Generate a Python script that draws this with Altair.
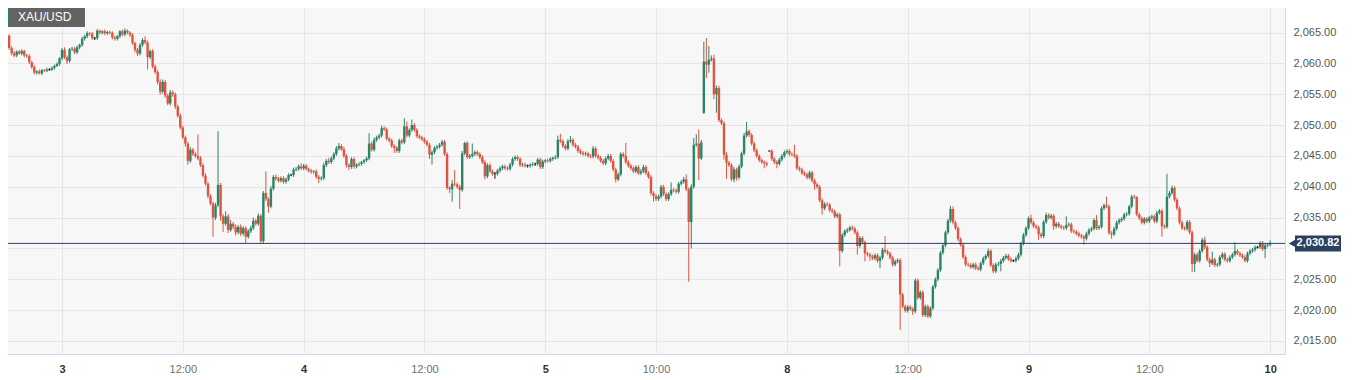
import altair as alt
import pandas as pd

# ---------------- data (15-minute XAU/USD candles) ----------------
FIRST_OPEN = 2065.0
GAP_OPENS = {279: 2052.0, 305: 2045.8}

CLOSE = [
    2063.1, 2063.3, 2064.5, 2062.5, 2061.6, 2061.3, 2061.9, 2061.6, 2062.0, 2061.3,
    2061.2, 2060.2, 2059.4, 2058.5, 2058.7, 2058.4, 2058.9, 2058.8, 2059.0, 2059.0,
    2059.3, 2059.6, 2059.9, 2060.8, 2062.2, 2061.0, 2060.4, 2062.3, 2062.4, 2061.8,
    2062.6, 2063.0, 2064.0, 2064.4, 2064.9, 2064.8, 2064.1, 2064.1, 2065.3, 2065.0,
    2065.2, 2064.9, 2065.1, 2065.0, 2064.2, 2064.0, 2064.4, 2065.2, 2064.7, 2065.3,
    2065.0, 2064.6, 2063.3, 2062.2, 2061.6, 2063.0, 2063.8, 2063.4, 2061.0, 2062.0,
    2059.5, 2058.6, 2057.0, 2055.4, 2057.0, 2054.8, 2053.5, 2055.3, 2055.0, 2053.0,
    2051.5, 2049.6, 2048.0, 2047.0, 2044.2, 2046.0, 2045.3, 2045.0, 2044.6, 2043.5,
    2041.8, 2040.5, 2038.5, 2037.3, 2035.0, 2037.0, 2040.3, 2035.2, 2034.0, 2035.2,
    2033.0, 2034.0, 2033.5, 2032.6, 2033.5, 2032.4, 2033.3, 2031.9, 2032.8, 2033.3,
    2034.5, 2034.0, 2035.3, 2031.2, 2039.0, 2038.0, 2036.8, 2039.7, 2041.6, 2041.3,
    2041.0, 2041.4, 2040.8, 2041.2, 2041.9, 2041.9, 2042.8, 2042.9, 2043.3, 2043.0,
    2043.4, 2042.9, 2042.6, 2042.4, 2042.5, 2041.6, 2041.3, 2041.4, 2043.5, 2044.2,
    2044.0, 2044.6, 2045.3, 2046.2, 2046.6, 2046.1, 2045.0, 2043.5, 2043.2, 2044.5,
    2043.3, 2043.6, 2043.7, 2044.0, 2044.3, 2044.6, 2047.0, 2046.0, 2047.6, 2048.0,
    2048.3, 2049.5, 2049.3, 2047.8, 2047.5, 2046.6, 2046.3, 2045.8, 2047.5, 2047.2,
    2049.8, 2048.3, 2049.2, 2050.0, 2049.2, 2048.2, 2048.0, 2047.7, 2047.3, 2046.8,
    2045.2, 2045.6, 2046.3, 2046.5, 2046.8, 2047.3, 2045.3, 2039.8, 2039.6, 2040.5,
    2040.4, 2040.0, 2039.5, 2045.4, 2047.1, 2044.8, 2045.0, 2045.3, 2045.6, 2045.3,
    2044.8, 2044.0, 2041.7, 2043.5, 2042.5, 2042.1, 2042.1, 2042.6, 2043.0, 2043.3,
    2043.0, 2042.9, 2043.6, 2044.5, 2044.8, 2044.5, 2043.5, 2043.6, 2043.4, 2043.4,
    2043.6, 2043.7, 2043.7, 2044.4, 2043.2, 2044.1, 2044.3, 2044.2, 2044.5, 2044.7,
    2044.8, 2047.6, 2047.4, 2046.6, 2046.2, 2047.4, 2047.6, 2046.8, 2046.5, 2045.8,
    2045.5, 2045.3, 2045.4, 2045.0, 2044.9, 2046.2, 2045.0, 2044.7, 2044.2, 2043.8,
    2044.6, 2045.0, 2044.2, 2042.8, 2041.2, 2042.0, 2045.3, 2045.0, 2044.0, 2043.4,
    2043.0, 2042.5, 2043.2, 2042.2, 2042.5, 2043.2, 2042.2, 2041.6, 2039.0, 2038.5,
    2038.0, 2038.4, 2040.0, 2038.8, 2038.0, 2038.8, 2039.5, 2039.4, 2039.2, 2040.5,
    2040.8, 2041.2, 2039.6, 2034.3, 2040.0, 2046.8, 2047.0, 2044.6, 2047.2, 2060.3,
    2059.8, 2060.6, 2060.8, 2055.0, 2056.0, 2050.8, 2050.3, 2045.2, 2043.9, 2043.5,
    2041.2, 2042.8, 2041.5, 2043.3, 2045.4, 2048.3, 2049.0, 2048.4, 2047.0, 2045.9,
    2045.0, 2044.3, 2044.0, 2043.8, 2043.6, 2045.8, 2044.5, 2044.0, 2043.7, 2044.4,
    2045.0, 2045.6, 2045.8, 2045.3, 2045.2, 2045.0, 2043.0, 2042.8, 2042.2, 2042.0,
    2041.5, 2042.3, 2041.0, 2040.4, 2040.0, 2037.8, 2036.5, 2037.2, 2037.1, 2036.2,
    2036.0, 2035.2, 2035.5, 2029.6, 2032.2, 2032.8, 2033.0, 2033.4, 2033.2, 2032.6,
    2030.4, 2031.7, 2031.0, 2029.2, 2029.0, 2028.7, 2028.4, 2028.9, 2028.0, 2028.5,
    2029.8, 2029.5, 2029.2, 2028.5, 2027.4, 2027.9, 2028.1, 2022.5, 2020.6, 2019.9,
    2020.5, 2020.2, 2019.8, 2024.8, 2022.0, 2022.9, 2019.2, 2020.6, 2019.0, 2020.3,
    2023.8, 2025.0, 2026.5, 2029.3, 2030.5, 2032.6, 2034.5, 2036.4, 2034.2, 2033.3,
    2031.5, 2030.6, 2028.6, 2027.4, 2027.3, 2027.0, 2027.4, 2026.8, 2026.6, 2027.6,
    2028.4, 2028.8, 2029.6, 2027.3, 2026.3, 2027.4, 2027.5, 2028.0, 2028.5, 2028.8,
    2028.3, 2028.0, 2028.0, 2028.4, 2029.0, 2030.8, 2032.2, 2033.3, 2034.9, 2034.2,
    2033.6, 2033.4, 2032.3, 2032.0, 2034.3, 2035.4, 2035.0, 2035.3, 2033.6, 2034.0,
    2033.6, 2033.4, 2033.3, 2033.8, 2033.9, 2032.8, 2032.7, 2032.4, 2032.1, 2031.9,
    2031.6, 2032.4, 2033.0, 2033.2, 2034.6, 2033.3, 2033.5, 2036.5, 2037.0, 2036.8,
    2032.5, 2032.3, 2033.2, 2034.2, 2034.6, 2034.8, 2035.5, 2035.6, 2036.8, 2038.4,
    2038.3, 2035.5, 2034.9, 2034.2, 2034.8, 2034.4, 2035.0, 2035.2, 2034.4, 2035.8,
    2036.1, 2033.6, 2033.5, 2038.4, 2039.0, 2039.8, 2037.9, 2036.5, 2034.2, 2033.3,
    2033.2, 2034.3, 2032.6, 2027.5, 2029.0, 2028.0, 2029.6, 2031.4, 2030.2, 2028.2,
    2027.6, 2028.2, 2027.3, 2027.4, 2028.6, 2029.1, 2028.2, 2028.0, 2028.6, 2029.0,
    2029.6, 2029.2, 2028.9, 2028.6, 2028.0, 2029.2, 2029.6, 2029.8, 2030.2, 2030.2,
    2030.9, 2029.9, 2030.5, 2030.6, 2030.82,
]

UPPER_WICK = [
    0.1, 0.3, 0.3, 0.2, 0.3, 0.4, 0.2, 0.3, 0.3, 0.2,
    0.2, 0.3, 0.2, 0.3, 0.2, 0.3, 0.2, 0.2, 0.3, 0.2,
    0.2, 0.2, 0.3, 0.2, 0.3, 0.4, 0.3, 0.2, 0.3, 0.3,
    0.3, 0.2, 0.3, 0.2, 0.3, 0.2, 0.3, 0.2, 0.3, 0.2,
    0.2, 0.3, 0.2, 0.2, 0.2, 0.3, 0.2, 0.2, 0.3, 0.4,
    0.2, 0.2, 0.3, 0.2, 0.3, 0.3, 0.3, 0.6, 0.3, 0.3,
    0.3, 0.3, 0.3, 0.4, 0.4, 0.3, 0.3, 0.4, 0.3, 0.3,
    0.3, 0.4, 0.3, 0.3, 0.3, 0.4, 0.3, 0.3, 3.5, 0.4,
    0.3, 0.4, 0.3, 0.3, 0.3, 0.4, 8.7, 0.3, 0.4, 0.8,
    0.4, 0.6, 0.3, 0.4, 0.3, 0.4, 0.3, 0.3, 0.3, 0.4,
    0.5, 0.3, 0.4, 0.3, 0.3, 3.5, 0.3, 0.4, 0.3, 0.4,
    0.3, 0.3, 0.3, 0.3, 0.3, 0.2, 0.3, 0.3, 0.3, 0.5,
    0.3, 0.3, 0.2, 0.3, 0.2, 0.3, 0.3, 0.3, 0.4, 0.3,
    0.5, 0.3, 0.3, 0.4, 0.5, 0.3, 0.4, 0.3, 0.3, 0.3,
    0.3, 0.2, 0.3, 0.2, 0.2, 0.3, 1.7, 0.3, 0.4, 0.3,
    0.3, 0.4, 0.3, 0.3, 0.3, 0.3, 0.3, 0.3, 0.3, 0.3,
    1.3, 0.8, 0.3, 0.9, 0.3, 0.3, 0.3, 0.3, 0.3, 0.3,
    0.3, 0.3, 0.3, 0.3, 0.3, 0.3, 0.3, 0.3, 0.3, 0.6,
    2.2, 0.3, 0.3, 0.4, 0.2, 0.3, 0.3, 1.7, 0.3, 0.3,
    0.3, 0.3, 0.3, 0.3, 0.3, 0.3, 0.3, 0.3, 0.3, 0.3,
    0.3, 0.3, 0.3, 0.3, 0.3, 0.3, 0.3, 0.3, 0.3, 0.2,
    0.2, 0.3, 0.2, 0.3, 0.3, 0.3, 0.2, 0.3, 0.3, 0.2,
    0.3, 0.7, 1.0, 0.3, 0.3, 0.3, 0.6, 0.3, 0.3, 0.3,
    0.3, 0.3, 0.3, 0.3, 0.3, 0.4, 0.3, 0.3, 0.3, 0.3,
    0.3, 0.3, 0.3, 0.3, 0.3, 0.3, 0.3, 0.3, 2.1, 0.3,
    0.3, 0.3, 0.3, 0.3, 0.4, 0.4, 0.3, 0.3, 0.3, 0.3,
    0.3, 0.3, 0.3, 0.3, 0.3, 0.3, 1.2, 0.3, 0.3, 0.3,
    0.3, 0.4, 0.8, 0.3, 0.4, 1.1, 1.5, 2.3, 0.4, 3.2,
    3.8, 2.2, 0.5, 0.6, 0.4, 0.4, 0.3, 0.3, 0.4, 0.3,
    0.3, 0.4, 0.3, 0.3, 0.3, 0.4, 1.5, 0.3, 0.3, 0.3,
    0.3, 0.3, 0.3, 0.3, 0.3, 0.1, 0.3, 0.3, 0.3, 0.3,
    0.3, 0.3, 0.3, 0.3, 0.3, 1.6, 0.3, 0.3, 0.3, 0.3,
    0.3, 0.3, 0.3, 0.3, 0.3, 0.3, 0.3, 0.3, 0.3, 0.3,
    0.3, 0.3, 0.3, 0.3, 0.3, 0.3, 0.3, 0.3, 0.3, 0.3,
    0.3, 0.3, 0.3, 0.3, 0.3, 0.3, 0.3, 0.3, 0.3, 0.3,
    0.3, 2.2, 0.3, 0.3, 0.3, 0.3, 0.3, 0.3, 0.3, 0.3,
    0.3, 0.3, 0.3, 0.3, 0.3, 0.3, 0.3, 0.3, 0.3, 0.3,
    0.3, 0.3, 0.3, 0.3, 0.3, 0.3, 0.3, 0.5, 0.4, 0.3,
    0.3, 0.3, 0.3, 0.3, 0.3, 0.3, 0.3, 0.3, 0.3, 0.3,
    0.3, 0.3, 0.4, 0.3, 0.3, 0.3, 0.3, 0.3, 0.3, 0.3,
    0.3, 0.3, 0.2, 0.3, 0.3, 0.3, 0.3, 0.3, 0.3, 0.6,
    0.3, 0.3, 0.3, 0.3, 0.3, 0.4, 0.3, 0.3, 0.3, 0.3,
    0.3, 0.3, 0.3, 1.4, 0.3, 0.3, 0.3, 0.3, 0.3, 0.3,
    0.3, 0.3, 0.3, 0.3, 0.3, 0.8, 0.3, 0.3, 0.3, 1.4,
    0.3, 0.3, 0.3, 0.3, 0.3, 0.3, 0.3, 0.3, 0.3, 0.3,
    0.3, 0.2, 0.3, 0.3, 0.3, 0.3, 0.3, 0.3, 0.3, 0.3,
    0.3, 0.3, 0.3, 3.7, 0.3, 0.4, 0.3, 0.3, 0.3, 0.3,
    0.3, 0.3, 0.3, 0.3, 0.3, 0.3, 0.3, 0.3, 0.5, 0.3,
    0.3, 1.3, 0.3, 0.3, 0.3, 0.3, 0.3, 0.3, 0.3, 0.3,
    1.4, 0.3, 0.3, 0.3, 0.3, 0.3, 0.3, 0.3, 0.3, 0.2,
    0.3, 0.3, 0.3, 0.3, 0.5,
]

LOWER_WICK = [
    0.4, 0.3, 0.3, 0.3, 0.3, 0.3, 0.3, 0.2, 0.3, 0.3,
    0.3, 0.3, 0.3, 0.3, 0.3, 0.2, 0.3, 0.2, 0.2, 0.2,
    0.2, 0.3, 0.2, 0.3, 0.3, 0.3, 0.5, 0.3, 0.3, 0.3,
    0.3, 0.3, 0.3, 0.3, 0.3, 0.3, 0.3, 0.3, 0.3, 0.3,
    0.3, 0.3, 0.3, 0.3, 0.3, 0.3, 0.3, 0.3, 0.3, 0.3,
    0.3, 0.3, 0.3, 0.4, 0.4, 0.3, 0.3, 0.3, 2.0, 0.3,
    0.3, 0.3, 0.4, 0.5, 0.3, 0.4, 0.3, 0.3, 0.4, 0.4,
    0.3, 0.3, 0.3, 0.5, 0.6, 0.3, 0.3, 0.3, 0.3, 0.3,
    0.3, 0.3, 0.4, 0.3, 3.1, 0.4, 0.3, 0.7, 1.3, 0.3,
    0.5, 0.3, 0.4, 0.5, 0.3, 0.4, 0.3, 1.0, 0.3, 0.3,
    0.3, 0.3, 0.3, 0.4, 0.4, 0.3, 1.0, 0.3, 0.3, 0.3,
    0.3, 0.3, 0.3, 0.3, 0.3, 0.2, 0.3, 0.3, 0.3, 0.3,
    0.3, 0.3, 0.3, 0.3, 0.3, 0.3, 0.7, 0.3, 0.3, 0.3,
    0.3, 0.3, 0.3, 0.3, 0.3, 0.3, 0.3, 0.4, 0.5, 0.3,
    0.4, 0.3, 0.3, 0.3, 0.3, 0.3, 0.3, 0.3, 0.3, 0.3,
    0.3, 0.3, 0.3, 0.3, 0.3, 0.3, 0.8, 0.3, 0.3, 0.3,
    0.3, 0.3, 0.3, 0.3, 0.3, 0.3, 0.3, 0.3, 0.3, 0.3,
    0.7, 1.6, 0.3, 0.3, 0.3, 0.3, 0.3, 0.3, 0.6, 2.0,
    0.3, 0.3, 3.1, 0.3, 0.3, 0.3, 0.3, 0.3, 0.3, 0.3,
    0.3, 0.3, 0.5, 0.3, 0.3, 0.3, 0.8, 0.3, 0.3, 0.3,
    0.3, 0.3, 0.3, 0.3, 0.3, 0.3, 0.3, 0.3, 0.3, 0.3,
    0.3, 0.3, 0.3, 0.3, 0.3, 0.3, 0.3, 0.3, 0.3, 0.3,
    0.3, 0.3, 0.3, 0.3, 0.3, 0.3, 0.3, 0.3, 0.3, 0.3,
    0.3, 0.3, 0.3, 0.3, 0.3, 0.3, 0.3, 0.3, 0.3, 0.3,
    0.3, 0.3, 0.3, 0.3, 0.5, 0.3, 0.3, 0.3, 0.3, 0.3,
    0.3, 0.3, 0.3, 0.3, 0.3, 0.3, 0.3, 0.3, 0.4, 0.9,
    0.3, 0.3, 0.3, 0.3, 0.3, 0.3, 0.3, 0.3, 0.3, 0.3,
    0.3, 0.3, 0.3, 9.7, 4.3, 0.3, 0.3, 3.5, 0.3, 0.2,
    2.2, 1.3, 0.3, 0.8, 3.0, 0.3, 0.3, 0.8, 2.6, 0.3,
    0.3, 0.5, 0.5, 0.3, 0.3, 0.3, 0.3, 0.3, 0.3, 0.3,
    0.3, 0.3, 0.3, 0.8, 0.3, 0.1, 0.3, 0.3, 0.7, 0.3,
    0.3, 0.3, 0.3, 0.3, 0.3, 0.3, 0.3, 0.3, 0.3, 0.3,
    0.3, 0.3, 0.3, 0.9, 0.3, 0.3, 1.0, 0.3, 0.3, 0.3,
    0.3, 0.3, 0.3, 2.5, 0.3, 0.3, 0.3, 0.3, 0.3, 0.3,
    1.4, 0.3, 0.3, 1.3, 0.3, 0.7, 0.3, 0.3, 0.3, 1.2,
    0.3, 0.3, 0.3, 0.3, 0.3, 0.3, 0.3, 5.7, 0.3, 0.3,
    0.3, 0.3, 0.6, 0.3, 0.3, 0.3, 0.3, 0.3, 0.3, 0.3,
    0.3, 0.3, 0.3, 0.3, 0.3, 0.3, 0.3, 0.3, 0.3, 0.3,
    0.3, 0.3, 0.3, 0.3, 0.3, 0.3, 0.3, 0.3, 0.2, 0.3,
    0.3, 0.3, 0.3, 0.3, 0.3, 0.3, 0.3, 1.2, 0.3, 0.3,
    0.3, 0.3, 0.2, 0.3, 0.3, 0.3, 0.3, 0.3, 0.3, 0.3,
    0.3, 0.3, 0.9, 0.3, 0.3, 0.3, 0.3, 0.3, 0.6, 0.3,
    0.3, 0.3, 0.3, 0.3, 0.3, 0.3, 0.3, 0.3, 0.3, 0.3,
    1.0, 0.3, 0.3, 0.3, 0.3, 0.3, 0.3, 0.3, 0.3, 0.3,
    0.3, 0.7, 0.3, 0.3, 0.3, 0.3, 0.3, 0.3, 0.3, 0.3,
    0.3, 0.3, 0.3, 0.3, 0.3, 0.3, 0.3, 0.3, 0.3, 0.3,
    0.3, 1.7, 0.3, 0.3, 0.3, 0.3, 0.3, 0.3, 0.3, 0.3,
    0.3, 0.3, 0.3, 1.3, 1.3, 0.3, 0.3, 0.3, 0.3, 0.3,
    0.6, 0.3, 0.3, 0.3, 0.3, 0.3, 0.3, 0.3, 0.3, 0.3,
    0.3, 0.3, 0.3, 0.3, 0.3, 0.3, 0.3, 0.3, 0.3, 0.2,
    0.3, 0.3, 1.5, 0.3, 0.3,
]

TICK_IDX = [24, 72, 120, 168, 216, 260, 312, 360, 408, 456, 504]
TICK_LABELS = ["3", "12:00", "4", "12:00", "5", "10:00", "8", "12:00", "9", "12:00", "10"]
DAY_TICKS = [24, 120, 216, 312, 408, 504]
Y_TICKS = [2015, 2020, 2025, 2030, 2035, 2040, 2045, 2050, 2055, 2060, 2065]
HIDDEN_Y_LABEL = 2030  # covered by the last-price tag in the reference
LAST_PRICE = 2030.82
LAST_PRICE_LABEL = "2,030.82"
SYMBOL = "XAU/USD"

# ---------------- build table ----------------
rows = []
prev = FIRST_OPEN
for i, c in enumerate(CLOSE):
    o = GAP_OPENS.get(i, prev)
    hi_b, lo_b = max(o, c), min(o, c)
    if abs(c - o) < 1e-9:
        d = "flat"
        b_lo, b_hi = c - 0.06, c + 0.06
    else:
        d = "up" if c > o else "down"
        b_lo, b_hi = lo_b, hi_b
    rows.append(dict(i=i, o=o, c=c, blo=b_lo, bhi=b_hi,
                     high=hi_b + UPPER_WICK[i], low=lo_b - LOWER_WICK[i], dir=d))
    prev = c
df = pd.DataFrame(rows)

GREEN = "#2b8467"
RED = "#de5440"
NAVY = "#2b3f60"
FONT = "Liberation Sans"

label_expr = ""
for v, t in zip(TICK_IDX, TICK_LABELS):
    label_expr += f"datum.value == {v} ? '{t}' : "
label_expr += "''"
day_test = "indexof([" + ",".join(str(v) for v in DAY_TICKS) + "], datum.value) >= 0"
y_label_expr = f"datum.value == {HIDDEN_Y_LABEL} ? '' : datum.label"

x_scale = alt.Scale(domain=[-0.24, 509.9], nice=False, zero=False, padding=0)
y_scale = alt.Scale(domain=[2012.89, 2070.28], nice=False, zero=False, padding=0)

x_axis = alt.Axis(values=TICK_IDX, labelExpr=label_expr, title=None, grid=True,
                  gridColor="#e6e6e6", domain=False, ticks=False, labelPadding=9,
                  labelFontSize=11, labelFont=FONT, labelFlush=False, labelOverlap=False,
                  labelColor={"condition": {"test": day_test, "value": "#333333"}, "value": "#6e6e6e"},
                  labelFontWeight={"condition": {"test": day_test, "value": "bold"}, "value": "normal"})
y_axis = alt.Axis(orient="right", values=Y_TICKS, format=",.2f", labelExpr=y_label_expr,
                  title=None, grid=True,
                  gridColor="#e6e6e6", domain=False, ticks=False, labelPadding=8,
                  labelFontSize=11, labelFont=FONT, labelColor="#555555", labelFlush=False,
                  labelOverlap=False)


def X(field):
    return alt.X(field, scale=x_scale, axis=x_axis)


def Y(field):
    return alt.Y(field, scale=y_scale, axis=y_axis)


color = alt.Color("dir:N", scale=alt.Scale(domain=["up", "down", "flat"], range=[GREEN, RED, "#111111"]),
                  legend=None)

base = alt.Chart(df)
wicks = base.mark_rule(strokeWidth=1).encode(
    x=X("i:Q"), y=Y("low:Q"), y2="high:Q", color=color)
bodies = base.mark_bar(size=2.4).encode(
    x=X("i:Q"), y=Y("blo:Q"), y2="bhi:Q", color=color)

price_df = pd.DataFrame({"p": [LAST_PRICE], "label": [LAST_PRICE_LABEL]})
price_line = alt.Chart(price_df).mark_rule(color=NAVY, strokeWidth=1).encode(y=Y("p:Q"))
tag_box = alt.Chart(price_df).mark_rect(color=NAVY, yOffset=-8, y2Offset=8).encode(
    x=alt.value(1294), x2=alt.value(1340), y=Y("p:Q"), y2="p:Q")
tag_arrow = alt.Chart(price_df).mark_point(shape="triangle-left", filled=True, size=55,
                                           color=NAVY, opacity=1).encode(
    x=alt.value(1291), y=Y("p:Q"))
tag_text = alt.Chart(price_df).mark_text(color="white", fontWeight="bold", fontSize=11,
                                         font=FONT, align="center", baseline="middle").encode(
    x=alt.value(1317), y=Y("p:Q"), text="label:N")

sym_df = pd.DataFrame({"s": [SYMBOL]})
sym_box = alt.Chart(sym_df).mark_rect(color="#636363").encode(
    x=alt.value(5), x2=alt.value(84), y=alt.value(5), y2=alt.value(27))
sym_stripe = alt.Chart(sym_df).mark_rect(color=GREEN).encode(
    x=alt.value(5), x2=alt.value(8), y=alt.value(5), y2=alt.value(27))
sym_text = alt.Chart(sym_df).mark_text(color="white", fontSize=12, font=FONT, align="left",
                                       baseline="middle").encode(
    x=alt.value(17), y=alt.value(16.5), text="s:N")

chart = alt.layer(
    wicks, bodies, price_line, tag_box, tag_arrow, tag_text, sym_box, sym_stripe, sym_text
).properties(
    width=1284, height=354,
    padding={"left": -8, "top": -8, "right": 0, "bottom": 0},
    background="white",
).configure_view(
    fill="#f7f7f7", stroke="#cdd6e8", strokeWidth=1,
)

chart.save("out.html", embed_options={"renderer": "svg", "actions": False})
